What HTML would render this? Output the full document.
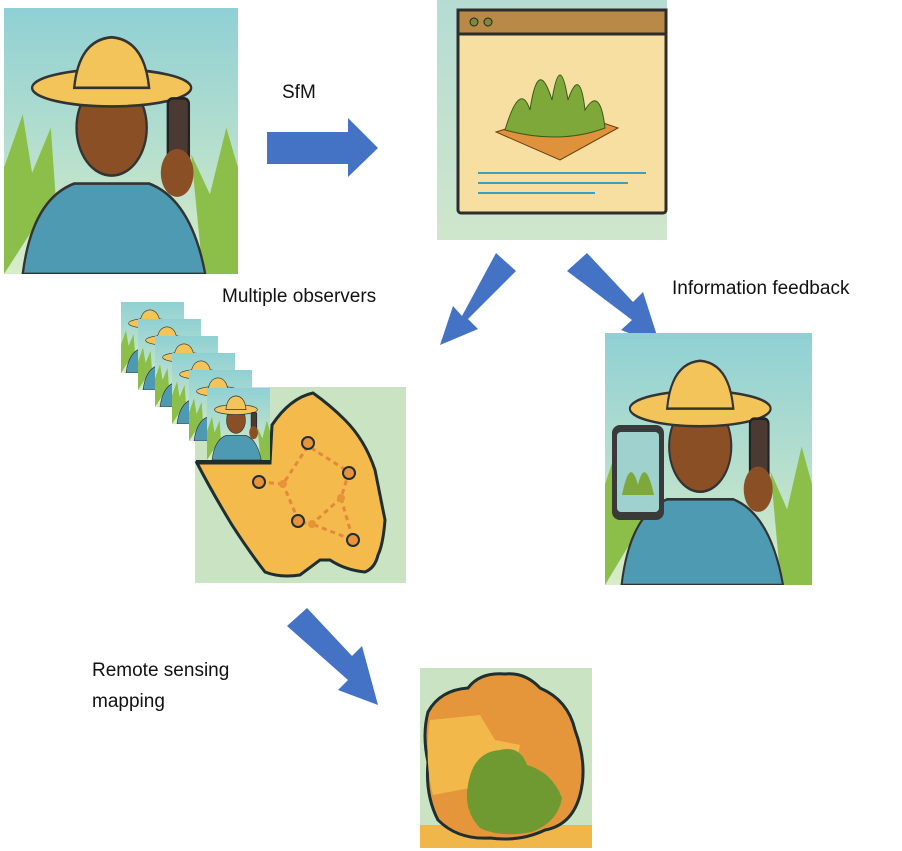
<!DOCTYPE html>
<html><head><meta charset="utf-8"><style>
html,body{margin:0;padding:0;background:#fff;}
body{width:902px;height:851px;overflow:hidden;position:relative;font-family:"Liberation Sans",sans-serif;}
.t{position:absolute;font-size:19px;color:#111;}
</style></head><body>
<svg width="902" height="851" style="position:absolute;left:0;top:0">
<defs>
<linearGradient id="sky" x1="0" y1="0" x2="0" y2="1"><stop offset="0" stop-color="#8fd0d4"/><stop offset="1" stop-color="#d8ecc8"/></linearGradient>
<linearGradient id="sky2" x1="0" y1="0" x2="0" y2="1"><stop offset="0" stop-color="#b5dcd4"/><stop offset="1" stop-color="#cfe6cc"/></linearGradient>
<g id="farmer">
<rect x="0" y="0" width="100" height="100" fill="url(#sky)"/>
<path d="M0 60 L8 40 L12 62 L20 45 L22 70 L0 100Z" fill="#8cbf4a"/>
<path d="M85 100 L80 55 L88 70 L95 45 L100 60 L100 100Z" fill="#8cbf4a"/>
<path d="M8 100 Q12 72 30 66 L62 66 Q80 72 86 100Z" fill="#4f9ab3" stroke="#333" stroke-width="1"/>
<ellipse cx="46" cy="45" rx="15" ry="18" fill="#8a4f24" stroke="#333" stroke-width="1"/>
<ellipse cx="46" cy="30" rx="34" ry="7" fill="#f2c45a" stroke="#333" stroke-width="1"/>
<path d="M30 30 Q32 12 46 11 Q60 12 62 30Z" fill="#f2c45a" stroke="#333" stroke-width="1"/>
<rect x="70" y="34" width="9" height="24" rx="2" fill="#4a3a33" stroke="#222"/>
<ellipse cx="74" cy="62" rx="7" ry="9" fill="#8a4f24"/>
</g>
</defs>

<svg x="4" y="8" width="234" height="266" viewBox="0 0 100 100" preserveAspectRatio="none"><use href="#farmer"/></svg>

<polygon points="267,132 348,132 348,118 378,148 348,177 348,164 267,164" fill="#4472c4"/>

<rect x="437" y="0" width="230" height="240" fill="url(#sky2)"/>
<rect x="458" y="10" width="208" height="203" rx="3" fill="#f6dfa0" stroke="#2d2d2d" stroke-width="3"/>
<rect x="458" y="10" width="208" height="24" fill="#b98a47" stroke="#2d2d2d" stroke-width="3"/>
<circle cx="474" cy="22" r="4" fill="#7a8a3a" stroke="#222"/><circle cx="488" cy="22" r="4" fill="#7a8a3a" stroke="#222"/>
<polygon points="496,132 565,110 618,128 560,160" fill="#e0913b" stroke="#6a3a10"/>
<path d="M505,130 Q520,80 530,110 Q538,55 552,100 Q560,50 568,100 Q580,65 585,110 Q600,85 605,128 Q560,145 505,130Z" fill="#7ea83a" stroke="#3b5a1a"/>
<line x1="478" y1="173" x2="646" y2="173" stroke="#3a9fc0" stroke-width="2"/>
<line x1="478" y1="183" x2="628" y2="183" stroke="#3a9fc0" stroke-width="2"/>
<line x1="478" y1="193" x2="595" y2="193" stroke="#3a9fc0" stroke-width="2"/>

<polygon points="496,253 516,271 468,319 478,329 440,345 453,306 462,316" fill="#4472c4"/>
<polygon points="567,271 587,253 633,302 643,292 660,345 621,330 632,320" fill="#4472c4"/>

<svg x="605" y="333" width="207" height="252" viewBox="0 0 100 100" preserveAspectRatio="none"><use href="#farmer"/></svg>
<rect x="612" y="425" width="52" height="95" rx="8" fill="#3a3a3a"/>
<rect x="617" y="432" width="42" height="80" rx="4" fill="#9fd2cf"/>
<path d="M622 495 Q630 455 638 485 Q645 455 654 495Z" fill="#7ea83a"/>

<rect x="195" y="387" width="211" height="196" fill="#c9e3c3"/>
<path d="M197,463 L270,463 L272,425 Q290,398 313,393 Q330,405 345,420 Q365,440 375,470 Q380,495 385,520 Q383,545 378,555 Q375,568 365,572 Q345,570 330,560 L320,560 L300,575 Q280,578 265,572 Q248,550 232,525 Q212,492 197,463Z" fill="#f4bb4c" stroke="#1f2f2f" stroke-width="3"/>
<g stroke="#e5883a" stroke-width="3" stroke-dasharray="5,4" fill="none">
<path d="M260,482 L283,484 L308,446 L349,472 L341,498 L312,524 L299,522 L283,484 M341,498 L353,540 L312,524"/>
</g>
<g fill="#e8923a" stroke="#1f2f2f" stroke-width="2">
<circle cx="308" cy="443" r="6"/><circle cx="349" cy="473" r="6"/><circle cx="259" cy="482" r="6"/><circle cx="298" cy="521" r="6"/><circle cx="353" cy="540" r="6"/>
</g>
<circle cx="283" cy="484" r="4" fill="#e8923a"/><circle cx="341" cy="498" r="4" fill="#e8923a"/><circle cx="312" cy="524" r="4" fill="#e8923a"/>

<svg x="121" y="302" width="63" height="71" viewBox="0 0 100 100" preserveAspectRatio="none"><use href="#farmer"/></svg>
<svg x="138" y="319" width="63" height="71" viewBox="0 0 100 100" preserveAspectRatio="none"><use href="#farmer"/></svg>
<svg x="155" y="336" width="63" height="71" viewBox="0 0 100 100" preserveAspectRatio="none"><use href="#farmer"/></svg>
<svg x="172" y="353" width="63" height="71" viewBox="0 0 100 100" preserveAspectRatio="none"><use href="#farmer"/></svg>
<svg x="189" y="370" width="63" height="71" viewBox="0 0 100 100" preserveAspectRatio="none"><use href="#farmer"/></svg>
<svg x="207" y="388" width="63" height="72" viewBox="0 0 100 100" preserveAspectRatio="none"><use href="#farmer"/></svg>
<rect x="196" y="460" width="75" height="3" fill="#1f2f2f"/>

<polygon points="287,626 307,608 352,656 362,646 378,705 338,690 348,680" fill="#4472c4"/>

<rect x="420" y="668" width="172" height="180" fill="#c9e3c3"/>
<rect x="420" y="825" width="172" height="23" fill="#f0b64a"/>
<path d="M428,712 Q440,690 468,688 Q480,672 505,674 Q525,672 540,688 Q568,700 575,730 Q588,765 580,795 Q572,825 545,830 Q520,842 490,838 Q458,840 438,820 Q425,795 428,762 Q422,735 428,712Z" fill="#e5963a" stroke="#1f2f2f" stroke-width="3"/>
<path d="M430,720 L480,715 L495,740 L520,745 L515,770 L470,788 L433,795 Q424,760 430,720Z" fill="#f2b84a"/>
<path d="M468,785 Q473,752 500,750 Q520,745 527,765 Q552,772 562,798 Q558,822 532,832 Q500,838 480,828 Q463,810 468,785Z" fill="#6f9a32"/>
</svg>
<div class="t" style="left:282px;top:82px">SfM</div>
<div class="t" style="left:222px;top:286px">Multiple observers</div>
<div class="t" style="left:672px;top:278px">Information feedback</div>
<div class="t" style="left:92px;top:660px">Remote sensing</div>
<div class="t" style="left:92px;top:691px">mapping</div>
</body></html>
